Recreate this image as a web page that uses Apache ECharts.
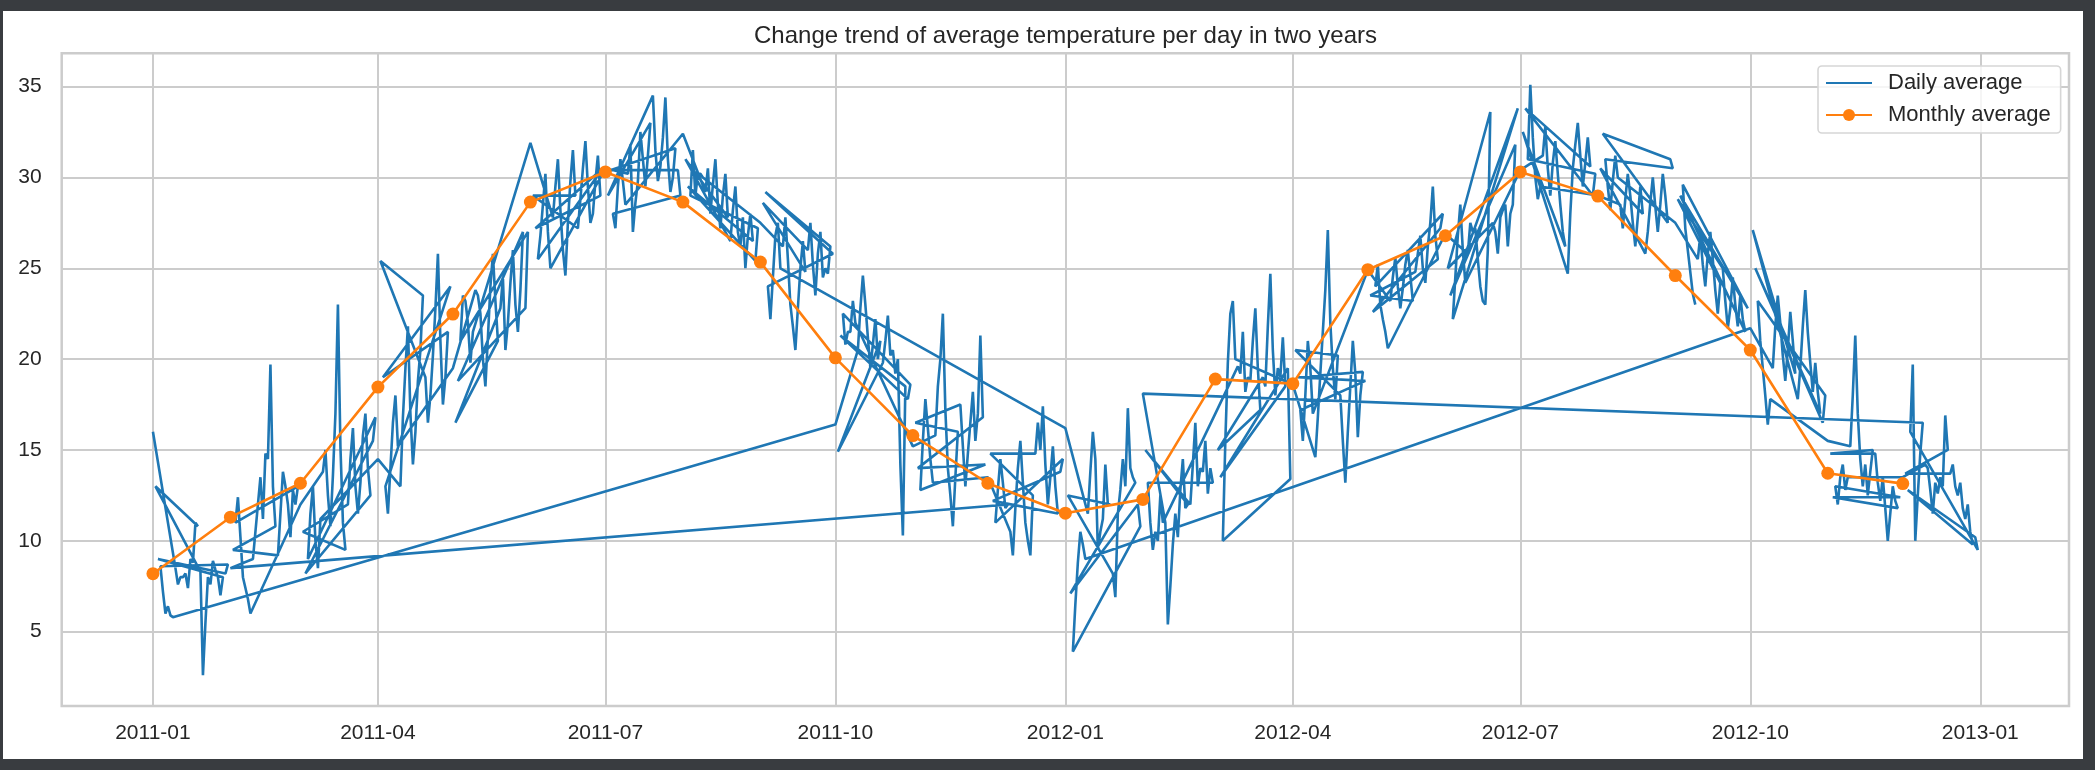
<!DOCTYPE html>
<html>
<head>
<meta charset="utf-8">
<script src="https://cdn.jsdelivr.net/npm/echarts@6/dist/echarts.min.js"></script>
<style>
html,body{margin:0;padding:0;background:#393c40;}
#c{width:2095px;height:770px;}
</style>
</head>
<body>
<div id="c"></div>
<script>
// ---- data (daily mean temperature, chronological per month) ----
const jan11=[16.0,13.0,9.0,8.6,7.2,6.0,6.4,5.9,5.8,8.5,7.6,8.0,8.0,8.2,7.4,9.0,8.8,11.0,10.8,8.3,2.6,5.5,8.0,7.6,8.9,8.4,8.0,7.0,8.0,8.2,8.7];
const feb11=[8.5,9.5,11.0,12.4,10.2,8.0,7.4,6.8,6.0,9.0,10.5,12.0,13.5,11.2,14.8,14.5,19.7,13.0,10.8,9.2,11.5,13.8,13.0,12.0,10.2,12.8,12.0,13.0];
const mar11=[12.0,10.5,8.2,9.0,11.5,13.0,10.0,8.5,11.2,13.8,15.0,12.5,10.8,13.6,17.0,23.0,15.2,11.0,9.5,12.0,14.5,16.2,13.0,11.5,13.2,15.8,17.0,14.0,12.5,15.5,16.8];
const apr11=[14.5,25.4,19.0,13.0,11.5,14.0,16.5,18.0,15.2,13.0,16.8,19.5,21.8,17.0,14.2,16.0,18.8,20.5,23.5,19.0,16.5,18.0,20.2,22.8,25.8,21.0,17.5,19.0,21.5,24.0];
const may11=[19.5,16.5,18.8,21.0,23.5,23.2,22.0,19.8,21.5,23.8,23.5,22.5,20.0,18.5,21.2,24.0,25.8,23.2,21.0,22.8,24.5,20.5,22.0,24.2,26.0,23.0,21.5,23.8,27.0,22.8,27.0];
const jun11=[31.9,29.0,27.2,25.5,26.8,28.5,30.2,27.0,25.0,27.8,29.5,31.0,28.2,26.0,24.6,27.5,29.8,31.5,29.0,27.2,28.8,30.5,32.0,29.5,27.5,28.0,29.8,31.2,29.0,30.5];
const jul11=[30.5,29.0,30.4,28.0,27.2,29.5,31.0,29.8,28.5,30.2,31.8,27.0,28.6,29.8,32.5,31.0,29.5,31.2,33.0,34.5,31.5,29.8,30.6,32.2,34.4,31.0,29.2,30.0,31.6,30.4,29.0];
const aug11=[32.4,31.0,29.5,29.0,31.5,29.0,30.2,30.2,30.0,29.2,30.5,28.0,29.6,31.0,28.5,27.2,29.0,30.2,27.8,26.5,28.2,29.5,27.0,26.2,27.8,25.0,26.8,28.0,26.5,25.4,27.2];
const sep11=[27.5,28.6,29.2,24.0,22.2,24.5,26.8,27.5,25.0,26.2,27.8,25.5,23.0,21.8,20.5,22.8,25.0,26.5,24.8,26.0,27.5,25.2,23.5,25.8,27.0,24.5,25.0,24.7,26.2,25.8];
const oct11=[16.4,14.9,21.3,22.5,20.8,21.5,21.5,23.2,22.0,20.5,22.8,24.6,23.0,21.2,19.5,20.8,22.2,20.0,21.0,19.8,21.0,22.4,20.2,20.5,19.2,20.0,14.2,10.3,18.5,17.8,18.6];
const nov11=[15.2,16.5,14.0,12.8,15.5,17.8,16.2,14.5,13.2,15.8,18.5,20.0,22.5,17.2,14.0,12.5,10.8,13.5,16.0,17.5,15.2,13.0,14.8,16.5,18.2,15.5,17.0,21.3,16.8,14.2];
const dec11=[13.5,14.8,12.2,11.0,12.8,14.5,13.2,11.8,12.0,10.5,9.2,11.8,14.0,15.5,13.2,11.0,10.0,9.2,12.5,14.8,16.5,15.0,17.4,14.2,12.0,13.5,15.2,13.0,11.5,13.8,14.5];
const jan12=[16.2,12.5,7.1,3.9,6.5,8.8,10.5,9.8,9.0,11.5,13.8,16.0,14.5,9.5,10.5,11.2,14.2,12.0,12.0,8.2,6.9,11.5,12.8,14.5,13.0,17.3,14.0,13.5,13.2,12.0,10.8];
const feb12=[18.1,15.0,13.2,11.0,9.5,10.5,10.0,12.5,11.0,11.0,5.4,7.5,9.8,11.5,10.2,12.8,14.5,11.8,12.0,12.0,14.2,16.5,13.0,14.0,13.8,15.5,12.6,14.0,13.2];
const mar12=[17.0,15.0,13.5,10.0,15.5,19.8,22.5,23.2,20.0,19.6,19.2,21.5,18.2,19.0,18.8,21.0,22.8,19.5,17.2,19.0,18.5,21.8,24.7,20.5,18.0,19.5,19.0,21.2,18.5,19.5,13.4];
const apr12=[18.6,20.5,19.0,17.2,15.5,18.0,21.0,19.5,17.0,14.6,16.8,19.2,21.5,23.8,27.1,22.0,19.5,17.8,20.2,18.0,15.5,13.2,16.0,18.5,21.0,19.2,15.7,18.0,19.3,18.8];
const may12=[24.9,23.5,22.6,24.0,25.2,23.0,22.2,21.5,20.6,23.2,24.5,25.6,24.0,22.8,23.9,25.2,26.0,24.6,23.2,24.8,25.8,26.8,25.0,24.2,26.2,27.5,29.5,26.8,25.5,27.2,28.0];
const jun12=[26.9,25.0,23.5,22.2,24.5,26.8,28.5,26.0,24.2,25.8,27.5,27.0,27.2,25.5,24.0,23.2,23.0,26.0,33.6,27.5,27.0,25.8,27.8,28.2,28.5,26.2,28.0,28.5,31.8,33.8];
const jul12=[30.4,32.5,33.8,31.0,35.1,32.2,30.0,28.8,29.5,31.2,32.8,30.5,29.0,30.8,32.0,30.2,28.5,27.0,26.2,24.7,28.0,30.5,31.8,33.0,31.2,29.5,30.8,32.2,30.6,29.0,30.2];
const aug12=[29.0,30.5,32.4,31.0,29.5,28.2,29.8,31.2,30.0,28.5,27.2,28.8,30.2,29.0,27.5,26.2,27.8,29.5,28.0,25.8,27.0,28.6,30.0,28.4,27.0,28.5,30.2,29.0,27.5,31.0,30.5];
const sep12=[27.5,28.8,29.0,29.6,27.2,26.0,24.8,23.6,23.0,25.5,26.8,25.2,24.0,25.8,27.0,25.5,23.8,22.5,24.2,25.0,23.2,21.7,22.8,24.5,23.0,21.8,23.5,22.2,21.5,22.8];
const oct12=[21.7,27.1,25.0,23.2,21.0,19.5,18.0,16.4,17.8,19.5,21.8,23.5,22.0,20.2,18.8,20.5,22.6,21.0,19.2,17.8,19.5,21.8,23.8,21.5,19.8,18.2,19.8,18.2,17.0,16.5,18.0];
const nov12=[15.5,14.8,12.4,13.0,12.0,13.5,14.2,12.8,13.5,15.2,18.0,21.3,17.0,14.5,13.0,14.2,12.5,13.8,15.0,14.8,13.2,12.2,13.5,11.8,10.0,11.5,13.0,12.2,11.8,12.4];
const dec12=[13.5,13.7,12.8,16.0,19.7,10.0,12.5,14.8,16.5,14.2,14.0,12.8,11.5,13.2,12.6,13.5,13.0,16.9,15.0,13.7,14.2,13.0,12.5,13.2,11.8,11.2,12.0,10.5,9.8,10.2,9.5];

// monthly average (plotted at the first day of each month)
const monthlyAvg=[8.19,11.3,13.17,18.46,22.48,28.64,30.3,28.64,25.34,20.07,15.79,13.17,11.52,12.28,18.9,18.65,24.92,26.79,30.3,28.97,24.6,20.5,13.72,13.15];

const xTickLabels=['2011-01','2011-04','2011-07','2011-10','2012-01','2012-04','2012-07','2012-10','2013-01'];
const yTicks=[5,10,15,20,25,30,35];
const seriesNames=['Daily average','Monthly average'];
const titleText='Change trend of average temperature per day in two years';

// ---- build series ----
const years=[[2011,[jan11,feb11,mar11,apr11,may11,jun11,jul11,aug11,sep11,oct11,nov11,dec11]],
             [2012,[jan12,feb12,mar12,apr12,may12,jun12,jul12,aug12,sep12,oct12,nov12,dec12]]];
const recs=[];
years.forEach(([y,ms])=>ms.forEach((arr,mi)=>arr.forEach((v,di)=>{
  recs.push({key:y+'-'+(mi+1)+'-'+(di+1), t:Date.UTC(y,mi,di+1), v:v});
})));
// rows in the source are ordered by their (unpadded) date strings
recs.sort((a,b)=>a.key<b.key?-1:(a.key>b.key?1:0));
const dailyData=recs.map(r=>[r.t,r.v]);
const monthlyData=monthlyAvg.map((v,i)=>[Date.UTC(2011+Math.floor(i/12),i%12,1),v]);

const DAY=86400000;
const tickTimes=xTickLabels.map(s=>{const p=s.split('-');return Date.UTC(+p[0],+p[1]-1,1);});
const labelOf={};tickTimes.forEach((t,i)=>labelOf[t]=xTickLabels[i]);
const xMin=Date.UTC(2011,0,1)-36.5*DAY, xMax=Date.UTC(2012,11,31)+36.5*DAY;

const FONT='"Liberation Sans", Arial, sans-serif';
const TXT='#262626';
const chart=echarts.init(document.getElementById('c'),null,{renderer:'canvas'});
chart.setOption({
  animation:false,
  backgroundColor:'#393c40',
  graphic:[{type:'rect',z:-100,shape:{x:3,y:11,width:2080,height:748},style:{fill:'#ffffff'},silent:true}],
  title:{text:titleText,left:754,top:24,padding:0,
    textStyle:{fontFamily:FONT,fontSize:24,fontWeight:'normal',color:TXT}},
  legend:{
    orient:'vertical',left:1818,top:66,padding:[6,10,7,7],
    itemWidth:46,itemHeight:15,itemGap:10,
    backgroundColor:'rgba(255,255,255,0.8)',borderColor:'#d6d6d6',borderWidth:1.6,borderRadius:4,
    textStyle:{fontFamily:FONT,fontSize:22,color:TXT,padding:[0,0,0,11]},
    data:[{name:seriesNames[0],itemStyle:{opacity:0}},{name:seriesNames[1]}]
  },
  grid:{left:61.7,right:26,top:53.3,bottom:64,show:true,borderColor:'#cccccc',borderWidth:2.5,
    backgroundColor:'transparent',outerBoundsMode:'none'},
  xAxis:{type:'value',min:xMin,max:xMax,
    axisLine:{show:false},
    axisTick:{show:false,customValues:tickTimes},
    splitLine:{show:true,lineStyle:{color:'#cccccc',width:2}},
    axisLabel:{customValues:tickTimes,margin:17,fontFamily:FONT,fontSize:21,color:TXT,
      formatter:v=>labelOf[v]||''}},
  yAxis:{type:'value',min:0.91,max:36.83,
    axisLine:{show:false},
    axisTick:{show:false,customValues:yTicks},
    splitLine:{show:true,lineStyle:{color:'#cccccc',width:2}},
    axisLabel:{customValues:yTicks,margin:20,fontFamily:FONT,fontSize:21,color:TXT}},
  series:[
    {name:seriesNames[0],type:'line',data:dailyData,symbol:'none',showSymbol:false,
     lineStyle:{color:'#1f77b4',width:2.6},itemStyle:{color:'#1f77b4'},z:2},
    {name:seriesNames[1],type:'line',data:monthlyData,symbol:'circle',symbolSize:13,
     lineStyle:{color:'#ff7f0e',width:2.6},itemStyle:{color:'#ff7f0e'},z:3}
  ]
});
</script>
</body>
</html>
